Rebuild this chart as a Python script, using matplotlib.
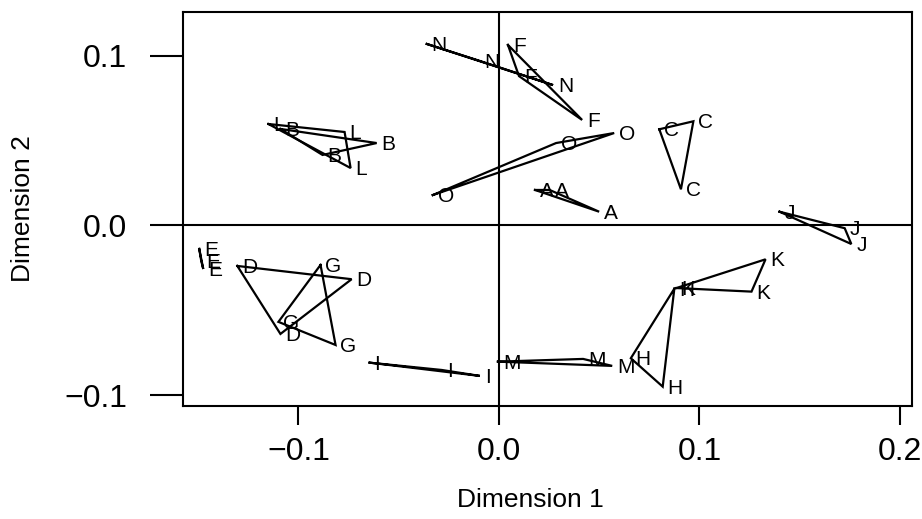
import matplotlib

matplotlib.use("Agg")
import matplotlib.pyplot as plt
from matplotlib import font_manager

# one letter per condition, three replicate points each (closed triangles)
labels = list("AAABBBCCCDDDEEEFFFGGGHHHIIIJJJKKKLLLMMMNNNOOO")
dim1 = [
    0.018, 0.0253, 0.050,
    -0.109, -0.088, -0.061,
    0.080, 0.097, 0.0908,
    -0.1305, -0.0735, -0.109,
    -0.1495, -0.1485, -0.1475,
    0.0045, 0.010, 0.0415,
    -0.089, -0.110, -0.0815,
    0.0875, 0.0658, 0.0817,
    -0.0645, -0.0285, -0.0095,
    0.140, 0.1725, 0.1758,
    0.0885, 0.133, 0.126,
    -0.115, -0.077, -0.074,
    -0.0005, 0.042, 0.0565,
    -0.036, -0.0095, 0.027,
    -0.033, 0.0285, 0.0575,
]
dim2 = [
    0.0209, 0.0209, 0.0081,
    0.0568, 0.0415, 0.0485,
    0.0566, 0.0613, 0.0213,
    -0.0238, -0.0316, -0.0638,
    -0.0138, -0.0209, -0.0256,
    0.1062, 0.0879, 0.0621,
    -0.0232, -0.0567, -0.0703,
    -0.0372, -0.0781, -0.0948,
    -0.0807, -0.0850, -0.0885,
    0.0081, -0.0016, -0.0109,
    -0.0368, -0.0199, -0.0389,
    0.0597, 0.055, 0.0338,
    -0.0801, -0.0785, -0.0826,
    0.1068, 0.0968, 0.0826,
    0.0179, 0.0485, 0.0544,
]
xticks = [-0.1, 0.0, 0.1, 0.2]
yticks = [-0.1, 0.0, 0.1]

installed = {f.name for f in font_manager.fontManager.ttflist}
base_font = "Liberation Sans" if "Liberation Sans" in installed else "DejaVu Sans"
letter_font = "Liberation Sans Narrow" if "Liberation Sans Narrow" in installed else base_font
plt.rcParams["font.family"] = base_font

fig = plt.figure(figsize=(9.22, 5.19), dpi=100)
ax = fig.add_axes([0.1985, 0.2177, 0.7905, 0.7592])

ax.axvline(0, color="k", lw=1.5)
ax.axhline(0, color="k", lw=1.5)

groups = sorted(set(labels))
for g in groups:
    idx = [i for i, lab in enumerate(labels) if lab == g]
    xs = [dim1[i] for i in idx] + [dim1[idx[0]]]
    ys = [dim2[i] for i in idx] + [dim2[idx[0]]]
    ax.plot(xs, ys, color="k", lw=1.6, solid_joinstyle="miter")
    for i in idx:
        ax.annotate(g, (dim1[i], dim2[i]), xytext=(3.5, -1), textcoords="offset points",
                    ha="left", va="center", fontsize=15, family=letter_font)

ax.set_xlim(-0.1576, 0.206)
ax.set_ylim(-0.1062, 0.1256)
ax.set_xticks(xticks)
ax.set_yticks(yticks)
ax.set_xticklabels([f"{v:.1f}".replace("-", "\u2212") for v in xticks])
ax.set_yticklabels([f"{v:.1f}".replace("-", "\u2212") for v in yticks])
ax.tick_params(axis="y", direction="out", length=24, width=1.5, pad=16, labelsize=23)
ax.tick_params(axis="x", direction="out", length=14, width=1.5, pad=8, labelsize=23)
for sp in ax.spines.values():
    sp.set_linewidth(1.5)

ax.set_xlabel("Dimension 1", fontsize=19)
ax.set_ylabel("Dimension 2", fontsize=19)
ax.xaxis.set_label_coords(0.477, -0.208)
ax.yaxis.set_label_coords(-0.203, 0.5)

fig.savefig("out.png", dpi=100)
